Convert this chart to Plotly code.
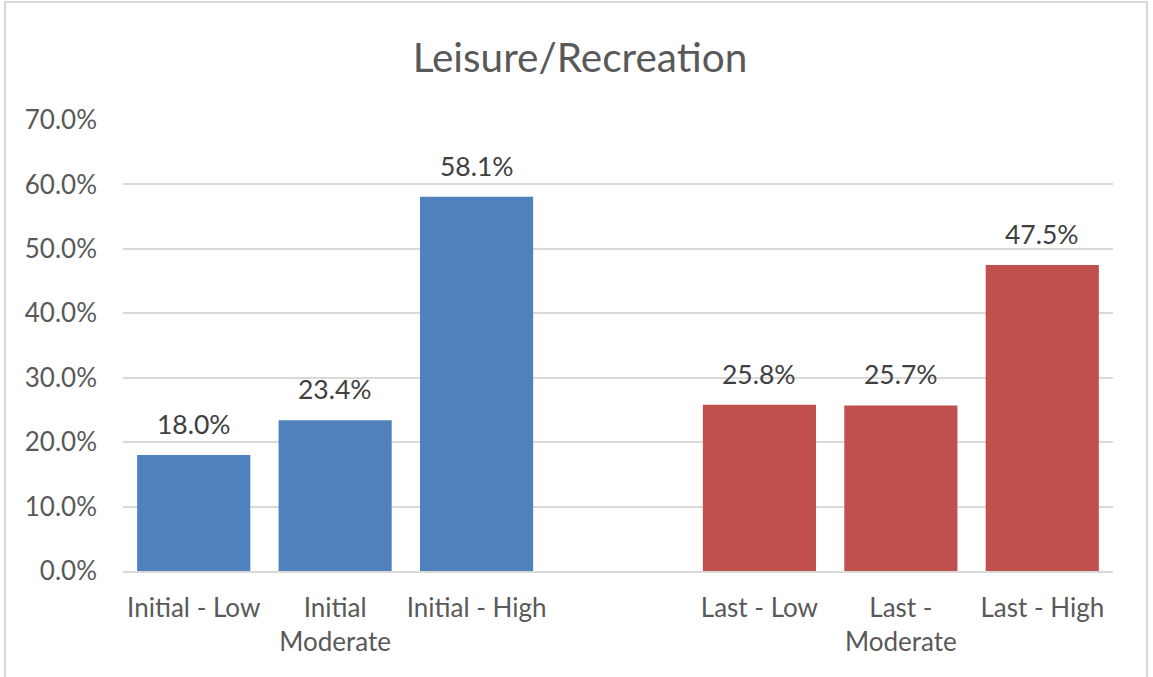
import plotly.graph_objects as go

# Category labels (a blank slot separates the two groups)
initial_labels = ["Initial - Low", "Initial<br>Moderate", "Initial - High"]
last_labels = ["Last - Low", "Last -<br>Moderate", "Last - High"]
spacer = [" "]
initial_values = [18.0, 23.4, 58.1]
last_values = [25.8, 25.7, 47.5]
y_ticks = [0, 10, 20, 30, 40, 50, 60, 70]
y_tick_text = [f"{v:.1f}%" for v in y_ticks]

BLUE = "#4F81BD"
RED = "#C0504D"
TEXT = "#595959"
GRID = "#D9D9D9"
FONT = "Lato, Open Sans, sans-serif"

fig = go.Figure()
fig.add_trace(go.Bar(x=initial_labels, y=initial_values, marker_color=BLUE,
                     marker_line_width=0, showlegend=False))
fig.add_trace(go.Bar(x=last_labels, y=last_values, marker_color=RED,
                     marker_line_width=0, showlegend=False))

# Value labels above each bar
for labels, values in ((initial_labels, initial_values), (last_labels, last_values)):
    for lab, val in zip(labels, values):
        fig.add_annotation(x=lab, y=val, text=f"{val:.1f}%", showarrow=False,
                           yanchor="bottom", yshift=13,
                           font=dict(family=FONT, size=26.5, color="#404040"))

# Light chart-area border
fig.add_shape(type="rect", xref="paper", yref="paper",
              x0=(5 - 123) / 990, x1=(1147 - 123) / 990,
              y0=(571 - 700) / 451, y1=(571 - 2) / 451,
              line=dict(color=GRID, width=2), fillcolor="rgba(0,0,0,0)", layer="below")

fig.update_layout(
    width=1153, height=677,
    margin=dict(l=123, r=40, t=120, b=106),
    plot_bgcolor="white", paper_bgcolor="white",
    bargap=0.2, barmode="overlay",
    title=dict(text="Leisure/Recreation", x=0.503, xanchor="center", y=0.915, yanchor="middle",
               font=dict(family=FONT, size=40.5, color=TEXT)),
    font=dict(family=FONT, color=TEXT),
    xaxis=dict(type="category",
               categoryorder="array",
               categoryarray=initial_labels + spacer + last_labels,
               showgrid=False, showline=True, linecolor=GRID, linewidth=2,
               ticks="", ticklabelstandoff=13,
               tickfont=dict(size=26, color=TEXT), fixedrange=True),
    yaxis=dict(range=[0, 70], tickvals=y_ticks, ticktext=y_tick_text,
               showgrid=True, gridcolor=GRID, gridwidth=2, zeroline=False,
               showline=False, ticks="", ticklabelstandoff=25,
               tickfont=dict(size=26, color=TEXT), fixedrange=True),
)

fig.write_html("out.html")
